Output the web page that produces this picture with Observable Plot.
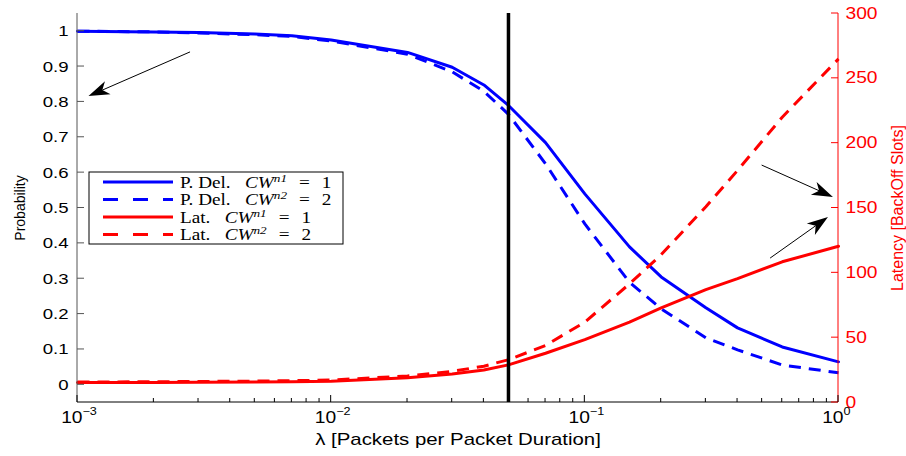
<!DOCTYPE html>
<html><head><meta charset="utf-8">
<script src="https://cdn.jsdelivr.net/npm/d3@7"></script>
<script src="https://cdn.jsdelivr.net/npm/@observablehq/plot@0.6"></script>
<style>
body{margin:0;background:#fff}
#chart{position:relative;width:906px;height:456px}
</style>
</head><body><div id="chart"></div>
<script>
// ---------- data ----------
const lambda   = [0.001, 0.002, 0.003, 0.005, 0.007, 0.01, 0.02, 0.03, 0.04, 0.05, 0.07, 0.1, 0.15, 0.2, 0.3, 0.4, 0.6, 1];
const pdelCW1  = [1.0, 0.998, 0.996, 0.992, 0.987, 0.975, 0.94, 0.898, 0.848, 0.79, 0.685, 0.54, 0.39, 0.305, 0.218, 0.161, 0.107, 0.065];
const pdelCW2  = [1.0, 0.998, 0.995, 0.99, 0.985, 0.972, 0.935, 0.885, 0.83, 0.765, 0.625, 0.455, 0.29, 0.215, 0.133, 0.099, 0.056, 0.034];
const latCW1   = [15.4, 15.5, 15.6, 15.8, 16, 16.3, 19, 22, 25, 29, 38, 48.5, 62, 73, 87, 95.5, 108.5, 120.5];
const latCW2   = [15.8, 16, 16.2, 16.5, 16.8, 17.3, 20.5, 24, 28, 33, 44, 62, 91.5, 114, 151, 179, 220, 265];
const probTicks = [0, 0.1, 0.2, 0.3, 0.4, 0.5, 0.6, 0.7, 0.8, 0.9, 1];
const latTicks  = [0, 50, 100, 150, 200, 250, 300];
const decadeTicks = [0.001, 0.01, 0.1, 1];
const decadeExp   = ["\u22123", "\u22122", "\u22121", "0"];
const minorTicks  = [0.002,0.003,0.004,0.005,0.006,0.007,0.008,0.009,0.02,0.03,0.04,0.05,0.06,0.07,0.08,0.09,0.2,0.3,0.4,0.5,0.6,0.7,0.8,0.9];
const markerLambda = 0.05;
const xDomain = [0.001, 1];
const yDomain = [-0.05, 1.05];
const latDomain = [0, 300];
const legendPre = ["P. Del.", "P. Del.", "Lat.", "Lat."];
const legendSup = ["n1", "n2", "n1", "n2"];
const legendVal = ["1", "2", "1", "2"];
// annotation arrows (tail -> tip) in data units (lambda, probability)
const arrows = [
  {x1: 0.00279, y1: 0.94,  x2: 0.00111, y2: 0.815},
  {x1: 0.50,    y1: 0.62,  x2: 0.955,   y2: 0.53},
  {x1: 0.54,    y1: 0.357, x2: 0.913,   y2: 0.473}
];

// ---------- helpers ----------
const toY = L => yDomain[0] + (L - latDomain[0]) / (latDomain[1] - latDomain[0]) * (yDomain[1] - yDomain[0]);
const series = [
  {name: "pdel1", vals: pdelCW1, lat: false, stroke: "#0000ff", dash: null},
  {name: "pdel2", vals: pdelCW2, lat: false, stroke: "#0000ff", dash: "12,8"},
  {name: "lat1",  vals: latCW1,  lat: true,  stroke: "#ff0000", dash: null},
  {name: "lat2",  vals: latCW2,  lat: true,  stroke: "#ff0000", dash: "12,8"}
];
const rowsOf = s => lambda.map((x, i) => ({x, y: s.lat ? toY(s.vals[i]) : s.vals[i]}));

const NS = "http://www.w3.org/2000/svg";
function el(tag, attrs, parent) {
  const e = document.createElementNS(NS, tag);
  for (const k in attrs) e.setAttribute(k, attrs[k]);
  if (parent) parent.appendChild(e);
  return e;
}

// axis lines + ticks (inward, MATLAB style)
function axesMark(index, scales, values, dims) {
  const g = el("g", {"stroke-width": 1, fill: "none"});
  const x = scales.x, y = scales.y;
  const L = dims.marginLeft, R = dims.width - dims.marginRight;
  const T = dims.marginTop, B = dims.height - dims.marginBottom;
  el("line", {x1: L, x2: L, y1: T, y2: B, stroke: "#555"}, g);
  el("line", {x1: R, x2: R, y1: T, y2: B, stroke: "#ff0000"}, g);
  el("line", {x1: L, x2: R, y1: B, y2: B, stroke: "#000"}, g);
  for (const p of probTicks) { const yy = y(p); el("line", {x1: L, x2: L + 7, y1: yy, y2: yy, stroke: "#555"}, g); }
  for (const l of latTicks)  { const yy = y(toY(l)); el("line", {x1: R, x2: R - 7, y1: yy, y2: yy, stroke: "#ff0000"}, g); }
  for (const d of decadeTicks) { const xx = x(d); el("line", {x1: xx, x2: xx, y1: B, y2: B - 7, stroke: "#000"}, g); }
  for (const d of minorTicks)  { const xx = x(d); el("line", {x1: xx, x2: xx, y1: B, y2: B - 4, stroke: "#000"}, g); }
  return g;
}

// arrows with MATLAB-like filled heads
function arrowMark(index, scales) {
  const g = el("g", {});
  const HL = 21, HW = 7, NOTCH = 0.72;
  for (const a of arrows) {
    const x1 = scales.x(a.x1), y1 = scales.y(a.y1), x2 = scales.x(a.x2), y2 = scales.y(a.y2);
    const dx = x2 - x1, dy = y2 - y1, len = Math.hypot(dx, dy);
    const ux = dx / len, uy = dy / len, vx = -uy, vy = ux;
    const bx = x2 - HL * ux, by = y2 - HL * uy;
    const nx = x2 - NOTCH * HL * ux, ny = y2 - NOTCH * HL * uy;
    el("line", {x1, y1, x2: nx, y2: ny, stroke: "#000", "stroke-width": 1}, g);
    el("path", {d: `M${x2},${y2}L${bx + HW * vx},${by + HW * vy}L${nx},${ny}L${bx - HW * vx},${by - HW * vy}Z`, fill: "#000"}, g);
  }
  return g;
}

// legend box
function legendMark() {
  const g = el("g", {class: "legend", "text-anchor": "start"});
  el("rect", {x: 89, y: 172, width: 254, height: 72, fill: "#fff", stroke: "#000", "stroke-width": 1}, g);
  series.forEach((s, i) => {
    const yy = 182 + i * 17.5;
    const ln = el("line", {x1: 103, x2: 173, y1: yy, y2: yy, stroke: s.stroke, "stroke-width": 3}, g);
    if (s.dash) ln.setAttribute("stroke-dasharray", "15,15");
    const tg = el("g", {transform: `translate(180,${yy + 5.5}) scale(1.2,1)`}, g);
    const t = el("text", {"font-family": "'Liberation Serif', 'DejaVu Serif', serif", "font-size": 16, fill: "#000", "text-anchor": "start", x: 0, y: 0}, tg);
    t.appendChild(document.createTextNode(legendPre[i]));
    const cw = el("tspan", {dx: 12, "font-style": "italic"}, t); cw.textContent = "CW";
    const sp = el("tspan", {dy: -6, "font-size": 11, "font-style": "italic"}, t); sp.textContent = legendSup[i];
    const eq = el("tspan", {dy: 6, dx: 10}, t); eq.textContent = "=";
    const vl = el("tspan", {dx: 10}, t); vl.textContent = legendVal[i];
  });
  return g;
}

// ---------- plot ----------
const marks = [];
for (const s of series) {
  marks.push(Plot.line(rowsOf(s), {x: "x", y: "y", stroke: s.stroke, strokeWidth: 3,
    strokeDasharray: s.dash || undefined, strokeLinecap: s.dash ? "butt" : "round", strokeLinejoin: "round"}));
}
marks.push(Plot.ruleX([markerLambda], {stroke: "#000", strokeWidth: 3.5}));
marks.push(axesMark);
marks.push(arrowMark);
marks.push(legendMark);
marks.push(Plot.text(probTicks, {y: d => d, text: d => String(d), frameAnchor: "left", textAnchor: "end", dx: -9, fontSize: 15.5}));
marks.push(Plot.text(latTicks, {y: d => toY(d), text: d => String(d), frameAnchor: "right", textAnchor: "start", dx: 7, fontSize: 16, fill: "#ff0000"}));
marks.push(Plot.text(decadeTicks, {x: d => d, text: () => "10", frameAnchor: "bottom", textAnchor: "end", dx: 5, dy: 20, fontSize: 16}));
marks.push(Plot.text(decadeTicks, {x: d => d, text: (d, i) => decadeExp[i], frameAnchor: "bottom", textAnchor: "start", dx: 5, dy: 12, fontSize: 10.5}));
marks.push(Plot.text(["Probability"], {text: d => d, frameAnchor: "left", textAnchor: "middle", dx: -57, rotate: -90, fontSize: 14}));
marks.push(Plot.text(["Latency [BackOff Slots]"], {text: d => d, frameAnchor: "right", textAnchor: "middle", dx: 59, rotate: -90, fontSize: 16, fill: "#ff0000"}));
marks.push(Plot.text(["\u03bb [Packets per Packet Duration]"], {text: d => d, frameAnchor: "bottom", textAnchor: "middle", dy: 42, fontSize: 17}));

const svg = Plot.plot({
  width: 906, height: 456,
  marginLeft: 77, marginRight: 68, marginTop: 13, marginBottom: 54,
  x: {type: "log", domain: xDomain, axis: null},
  y: {domain: yDomain, axis: null},
  style: {fontFamily: "'Liberation Sans', Arial, Helvetica, sans-serif", fontSize: "15px", background: "#fff", color: "#000", overflow: "visible"},
  marks
});
document.getElementById("chart").append(svg);

// the reference figure is rendered with a horizontally wide font: stretch horizontal labels
const S = 1.2;
svg.querySelectorAll("text").forEach(t => {
  if (t.closest(".legend")) return;
  if (t.closest('[transform*="rotate"]')) return;
  const len = t.getComputedTextLength();
  t.setAttribute("textLength", len * S);
  t.setAttribute("lengthAdjust", "spacingAndGlyphs");
});
</script></body></html>
